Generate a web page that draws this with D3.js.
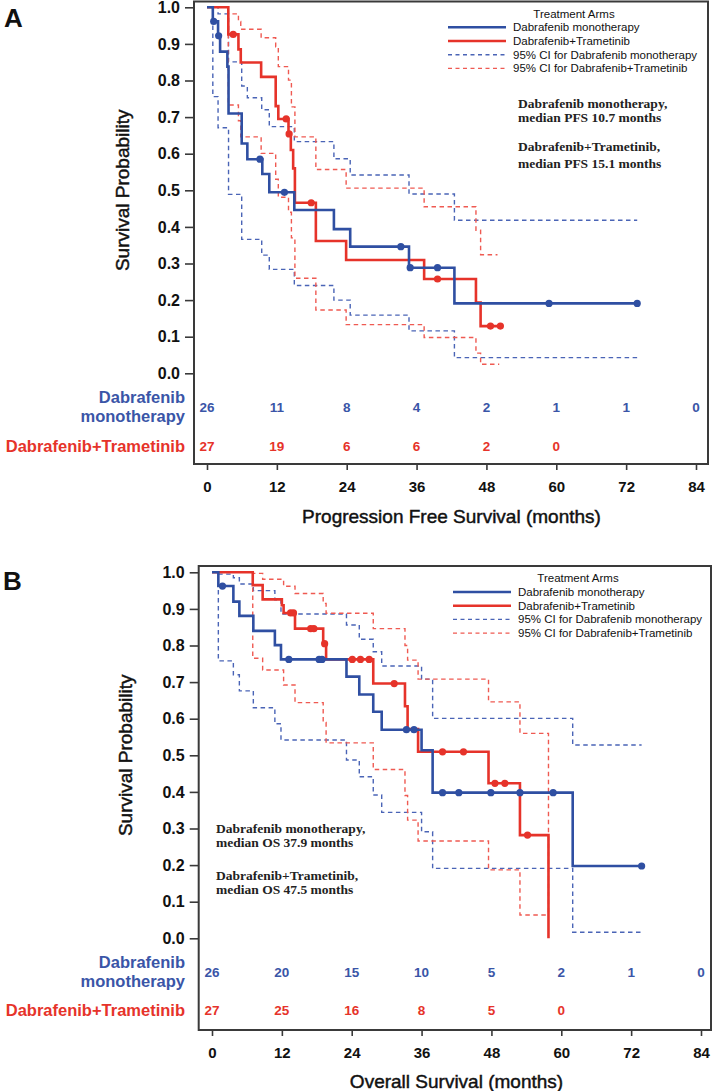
<!DOCTYPE html>
<html><head><meta charset="utf-8">
<script src="https://cdn.jsdelivr.net/npm/d3@7"></script>
<style>body{margin:0;background:#fff} svg{display:block}</style>
</head><body>
<svg id="c" width="714" height="1091"></svg>
<script>
// ---------- DATA ----------
const monthTicks = [0, 12, 24, 36, 48, 60, 72, 84];
const yTickVals = [0, 0.1, 0.2, 0.3, 0.4, 0.5, 0.6, 0.7, 0.8, 0.9, 1.0];
const yTickLabels = ["0.0","0.1","0.2","0.3","0.4","0.5","0.6","0.7","0.8","0.9","1.0"];
const armNames = ["Dabrafenib monotherapy", "Dabrafenib+Trametinib"];
const legendLabels = ["Dabrafenib monotherapy", "Dabrafenib+Trametinib",
  "95% CI for Dabrafenib monotherapy", "95% CI for Dabrafenib+Trametinib"];

// Panel A: progression free survival, [month, survival probability]
const pfsMono = [[0,1],[1.0,0.9615],[1.9,0.922],[2.25,0.879],[3.5,0.838],[3.7,0.71],[5.96,0.628],[6.93,0.585],[9.5,0.5445],[10.7,0.4945],[15.0,0.446],[21.8,0.394],[24.6,0.346],[34.7,0.2885],[42.5,0.191],[73.9,0.191]];
const pfsMonoCens = [[1.15,0.9615],[2.0,0.922],[9.1,0.585],[13.3,0.4945],[33.3,0.346],[34.9,0.2885],[39.6,0.2885],[58.75,0.191],[73.9,0.191]];
const pfsMonoUpper = [[0,1],[1.9,0.982],[3.7,0.851],[5.96,0.785],[6.93,0.753],[9.4,0.72],[10.7,0.674],[15.0,0.633],[21.8,0.586],[24.6,0.542],[34.7,0.49],[42.5,0.418],[73.9,0.418]];
const pfsMonoLower = [[0,1],[1.0,0.756],[1.9,0.671],[3.7,0.489],[5.96,0.366],[9.4,0.323],[10.7,0.284],[15.0,0.24],[21.8,0.2],[24.6,0.159],[34.7,0.116],[42.5,0.0427],[73.9,0.0427]];

const pfsCombo = [[0,1],[3.66,0.926],[5.4,0.885],[5.8,0.849],[9.3,0.81],[11.8,0.73],[12.25,0.695],[14.0,0.654],[14.4,0.61],[14.8,0.56],[15.1,0.466],[18.7,0.3615],[23.9,0.3096],[37.3,0.2577],[46.2,0.193],[47.0,0.129],[50.4,0.129]];
const pfsComboCens = [[4.5,0.926],[13.6,0.695],[14.1,0.654],[17.9,0.466],[39.6,0.2577],[48.7,0.129],[50.4,0.129]];
const pfsComboUpper = [[0,1],[3.66,0.982],[5.4,0.961],[5.8,0.94],[9.3,0.917],[11.8,0.892],[12.25,0.838],[14.0,0.801],[14.5,0.728],[15.1,0.646],[18.7,0.557],[23.9,0.506],[37.3,0.455],[46.2,0.391],[47.0,0.324],[49.9,0.324]];
const pfsComboLower = [[0,1],[3.66,0.733],[5.4,0.69],[5.8,0.646],[9.3,0.601],[11.8,0.53],[12.25,0.481],[14.0,0.44],[14.5,0.37],[15.1,0.2595],[18.7,0.173],[23.9,0.133],[37.3,0.098],[46.2,0.055],[47.0,0.0246],[50.2,0.0246]];

const pfsRiskMono = [26, 11, 8, 4, 2, 1, 1, 0];
const pfsRiskCombo = [27, 19, 6, 6, 2, 0];

// Panel B: overall survival
const osMono = [[0,1],[1.09,0.9625],[3.67,0.92],[4.7,0.881],[7.1,0.84],[10.8,0.801],[11.85,0.762],[23.1,0.715],[25.3,0.666],[27.7,0.619],[29.15,0.57],[36.0,0.514],[37.9,0.398],[61.96,0.1975],[73.8,0.1975]];
const osMonoCens = [[1.8,0.9625],[13.2,0.762],[18.4,0.762],[18.9,0.762],[33.4,0.57],[34.7,0.57],[39.6,0.398],[42.4,0.398],[47.9,0.398],[52.9,0.398],[58.6,0.398],[73.8,0.1975]];
const osMonoUpper = [[0,1],[1.09,0.995],[3.67,0.985],[4.7,0.968],[7.1,0.95],[10.8,0.925],[11.85,0.886],[23.1,0.856],[25.3,0.817],[27.7,0.783],[29.15,0.744],[36.0,0.708],[37.9,0.601],[61.96,0.528],[73.8,0.528]];
const osMonoLower = [[0,1],[1.09,0.758],[3.67,0.72],[4.7,0.676],[7.1,0.63],[10.8,0.586],[11.85,0.542],[23.1,0.487],[25.3,0.4415],[27.7,0.3915],[29.15,0.344],[36.0,0.291],[37.9,0.191],[61.96,0.0164],[73.8,0.0164]];

const osCombo = [[0,1],[7.0,0.965],[8.7,0.926],[12.0,0.91],[12.3,0.889],[14.26,0.846],[19.1,0.805],[19.6,0.762],[27.7,0.696],[33.15,0.634],[33.6,0.572],[35.4,0.5095],[47.5,0.4235],[52.9,0.282],[57.8,0]];
const osComboCens = [[13.5,0.889],[14.0,0.889],[16.95,0.846],[17.5,0.846],[19.35,0.805],[24.1,0.762],[25.5,0.762],[27.0,0.762],[31.3,0.696],[39.6,0.5095],[43.2,0.5095],[48.6,0.4235],[50.3,0.4235],[54.2,0.282]];
const osComboUpper = [[0,1],[7.0,0.997],[8.7,0.981],[12.3,0.962],[14.26,0.942],[19.1,0.915],[19.6,0.888],[27.7,0.846],[33.15,0.80],[33.6,0.76],[35.4,0.708],[47.5,0.646],[52.9,0.56],[57.8,0.0637]];
const osComboLower = [[0,1],[7.0,0.765],[8.7,0.733],[12.3,0.692],[14.26,0.644],[19.1,0.59],[19.6,0.534],[27.7,0.461],[33.15,0.39],[33.6,0.323],[35.4,0.266],[47.5,0.187],[52.9,0.0637],[57.8,0.0637]];

const osRiskMono = [26, 20, 15, 10, 5, 2, 1, 0];
const osRiskCombo = [27, 25, 16, 8, 5, 0];

const pfsNotes = [["Dabrafenib monotherapy,", "median PFS 10.7 months"], ["Dabrafenib+Trametinib,", "median PFS 15.1 months"]];
const osNotes = [["Dabrafenib monotherapy,", "median OS 37.9 months"], ["Dabrafenib+Trametinib,", "median OS 47.5 months"]];

// ---------- STYLE ----------
const BLUE = "#2f4fa2", RED = "#e6332a", BLUE_CI = "#4a64b6", RED_CI = "#ef5a52", LBLUE = "#3a55a7";
const SANS = "'Liberation Sans', Arial, Helvetica, sans-serif";
const SERIF = "'Liberation Serif', 'Times New Roman', serif";
const svg = d3.select("#c");

function drawPanel(cfg) {
  const g = svg.append("g");
  const x = d3.scaleLinear().domain([0, 84]).range([cfg.x0, cfg.x84]);
  const y = d3.scaleLinear().domain([0, 1]).range([cfg.y0, cfg.y1]);

  // panel letter
  g.append("text").attr("x", cfg.letterX).attr("y", cfg.letterY).text(cfg.letter)
    .attr("font-family", SANS).attr("font-weight", "bold").attr("font-size", 26).attr("fill", "#111");

  // y axis
  const ya = g.append("g").attr("transform", `translate(${cfg.l},0)`)
    .call(d3.axisLeft(y).tickValues(yTickVals).tickFormat((d, i) => yTickLabels[i]).tickSize(9).tickPadding(5));
  ya.select(".domain").remove();
  ya.selectAll("line").attr("stroke", "#3a3a3a").attr("stroke-width", 1.6);
  ya.selectAll("text").attr("font-family", SANS).attr("font-size", 16).attr("font-weight", "bold").attr("fill", "#111");

  // x axis
  const xa = g.append("g").attr("transform", `translate(0,${cfg.b})`)
    .call(d3.axisBottom(x).tickValues(monthTicks).tickFormat(d3.format("d")).tickSize(6).tickPadding(11));
  xa.select(".domain").remove();
  xa.selectAll("line").attr("stroke", "#3a3a3a").attr("stroke-width", 1.6);
  xa.selectAll("text").attr("font-family", SANS).attr("font-size", 15).attr("font-weight", "bold").attr("fill", "#111");

  // frame
  g.append("rect").attr("x", cfg.l).attr("y", cfg.t).attr("width", cfg.r - cfg.l).attr("height", cfg.b - cfg.t)
    .attr("fill", "none").attr("stroke", "#3a3a3a").attr("stroke-width", 2);

  // axis titles
  g.append("text").attr("transform", `translate(${cfg.ytX},${(cfg.y0 + cfg.y1) / 2}) rotate(-90)`)
    .attr("text-anchor", "middle").attr("font-family", SANS).attr("font-size", 19).attr("fill", "#111")
    .attr("stroke", "#111").attr("stroke-width", 0.45)
    .text("Survival Probability");
  g.append("text").attr("x", (cfg.x0 + cfg.x84) / 2).attr("y", cfg.xtY).attr("text-anchor", "middle")
    .attr("font-family", SANS).attr("font-size", 19).attr("fill", "#111")
    .attr("stroke", "#111").attr("stroke-width", 0.45).text(cfg.xTitle);

  const line = d3.line().x(d => x(d[0])).y(d => y(d[1])).curve(d3.curveStepAfter);
  const ci = [[cfg.monoU, BLUE_CI], [cfg.monoL, BLUE_CI], [cfg.comboU, RED_CI], [cfg.comboL, RED_CI]];
  ci.forEach(([d, c]) => g.append("path").attr("d", line(d)).attr("fill", "none").attr("stroke", c)
    .attr("stroke-width", 1.4).attr("stroke-dasharray", "4.5,3.5"));
  [[cfg.combo, RED], [cfg.mono, BLUE]].forEach(([d, c]) => g.append("path").attr("d", line(d)).attr("fill", "none")
    .attr("stroke", c).attr("stroke-width", 2.6));
  [[cfg.comboC, RED], [cfg.monoC, BLUE]].forEach(([d, c]) => g.append("g").selectAll("circle").data(d).join("circle")
    .attr("cx", p => x(p[0])).attr("cy", p => y(p[1])).attr("r", 3.6).attr("fill", c));

  // legend
  const L = cfg.leg;
  g.append("text").attr("x", L.titleX).attr("y", L.titleY).attr("text-anchor", "middle")
    .attr("font-family", SANS).attr("font-size", 11.5).attr("fill", "#111").text("Treatment Arms");
  const legStyles = [[BLUE, null, 2.6], [RED, null, 2.6], [BLUE_CI, "4,3.5", 1.4], [RED_CI, "4,3.5", 1.4]];
  legendLabels.forEach((lab, i) => {
    const yy = L.y0 + i * L.dy;
    g.append("line").attr("x1", L.x1).attr("x2", L.x2).attr("y1", yy).attr("y2", yy)
      .attr("stroke", legStyles[i][0]).attr("stroke-width", legStyles[i][2])
      .attr("stroke-dasharray", legStyles[i][1]);
    g.append("text").attr("x", L.tx).attr("y", yy + 4).attr("font-family", SANS).attr("font-size", 11.5)
      .attr("fill", "#111").text(lab);
  });

  // median notes
  cfg.notes.forEach((pair, k) => pair.forEach((s, j) => {
    g.append("text").attr("x", cfg.noteX).attr("y", cfg.noteY[k * 2 + j]).attr("font-family", SERIF)
      .attr("font-weight", "bold").attr("font-size", 13.5).attr("fill", "#222").text(s);
  }));

  // at risk table
  const R = cfg.risk;
  g.append("text").attr("x", 185).attr("y", R.lab1).attr("text-anchor", "end").attr("font-family", SANS)
    .attr("font-weight", "bold").attr("font-size", 16.5).attr("fill", LBLUE).text("Dabrafenib");
  g.append("text").attr("x", 185).attr("y", R.lab2).attr("text-anchor", "end").attr("font-family", SANS)
    .attr("font-weight", "bold").attr("font-size", 16.5).attr("fill", LBLUE).text("monotherapy");
  g.append("text").attr("x", 185).attr("y", R.lab3).attr("text-anchor", "end").attr("font-family", SANS)
    .attr("font-weight", "bold").attr("font-size", 16.5).attr("fill", RED).text(armNames[1]);
  cfg.riskMono.forEach((n, i) => g.append("text").attr("x", x(monthTicks[i])).attr("y", R.n1)
    .attr("text-anchor", "middle").attr("font-family", SANS).attr("font-weight", "bold").attr("font-size", 13.5)
    .attr("fill", LBLUE).text(n));
  cfg.riskCombo.forEach((n, i) => g.append("text").attr("x", x(monthTicks[i])).attr("y", R.n2)
    .attr("text-anchor", "middle").attr("font-family", SANS).attr("font-weight", "bold").attr("font-size", 13.5)
    .attr("fill", RED).text(n));
}

drawPanel({
  letter: "A", letterX: 4, letterY: 27,
  l: 194, t: 1.5, r: 708, b: 464,
  x0: 207, x84: 696, y0: 373.3, y1: 7.3,
  ytX: 129, xtY: 523, xTitle: "Progression Free Survival (months)",
  mono: pfsMono, monoC: pfsMonoCens, monoU: pfsMonoUpper, monoL: pfsMonoLower,
  combo: pfsCombo, comboC: pfsComboCens, comboU: pfsComboUpper, comboL: pfsComboLower,
  leg: { titleX: 574, titleY: 18, x1: 448, x2: 506, tx: 513, y0: 27.3, dy: 13.7 },
  notes: pfsNotes, noteX: 518, noteY: [108, 122, 151, 168],
  risk: { lab1: 403, lab2: 422, lab3: 452, n1: 412, n2: 451 },
  riskMono: pfsRiskMono, riskCombo: pfsRiskCombo
});

drawPanel({
  letter: "B", letterX: 3, letterY: 590,
  l: 198.7, t: 566, r: 711, b: 1030,
  x0: 212, x84: 701, y0: 938.3, y1: 572.3,
  ytX: 132, xtY: 1087.5, xTitle: "Overall Survival (months)",
  mono: osMono, monoC: osMonoCens, monoU: osMonoUpper, monoL: osMonoLower,
  combo: osCombo, comboC: osComboCens, comboU: osComboUpper, comboL: osComboLower,
  leg: { titleX: 578, titleY: 582, x1: 453, x2: 511, tx: 518, y0: 592, dy: 13.7 },
  notes: osNotes, noteX: 216, noteY: [833, 847, 880, 894],
  risk: { lab1: 968, lab2: 987, lab3: 1016, n1: 977, n2: 1015 },
  riskMono: osRiskMono, riskCombo: osRiskCombo
});
</script>
</body></html>
